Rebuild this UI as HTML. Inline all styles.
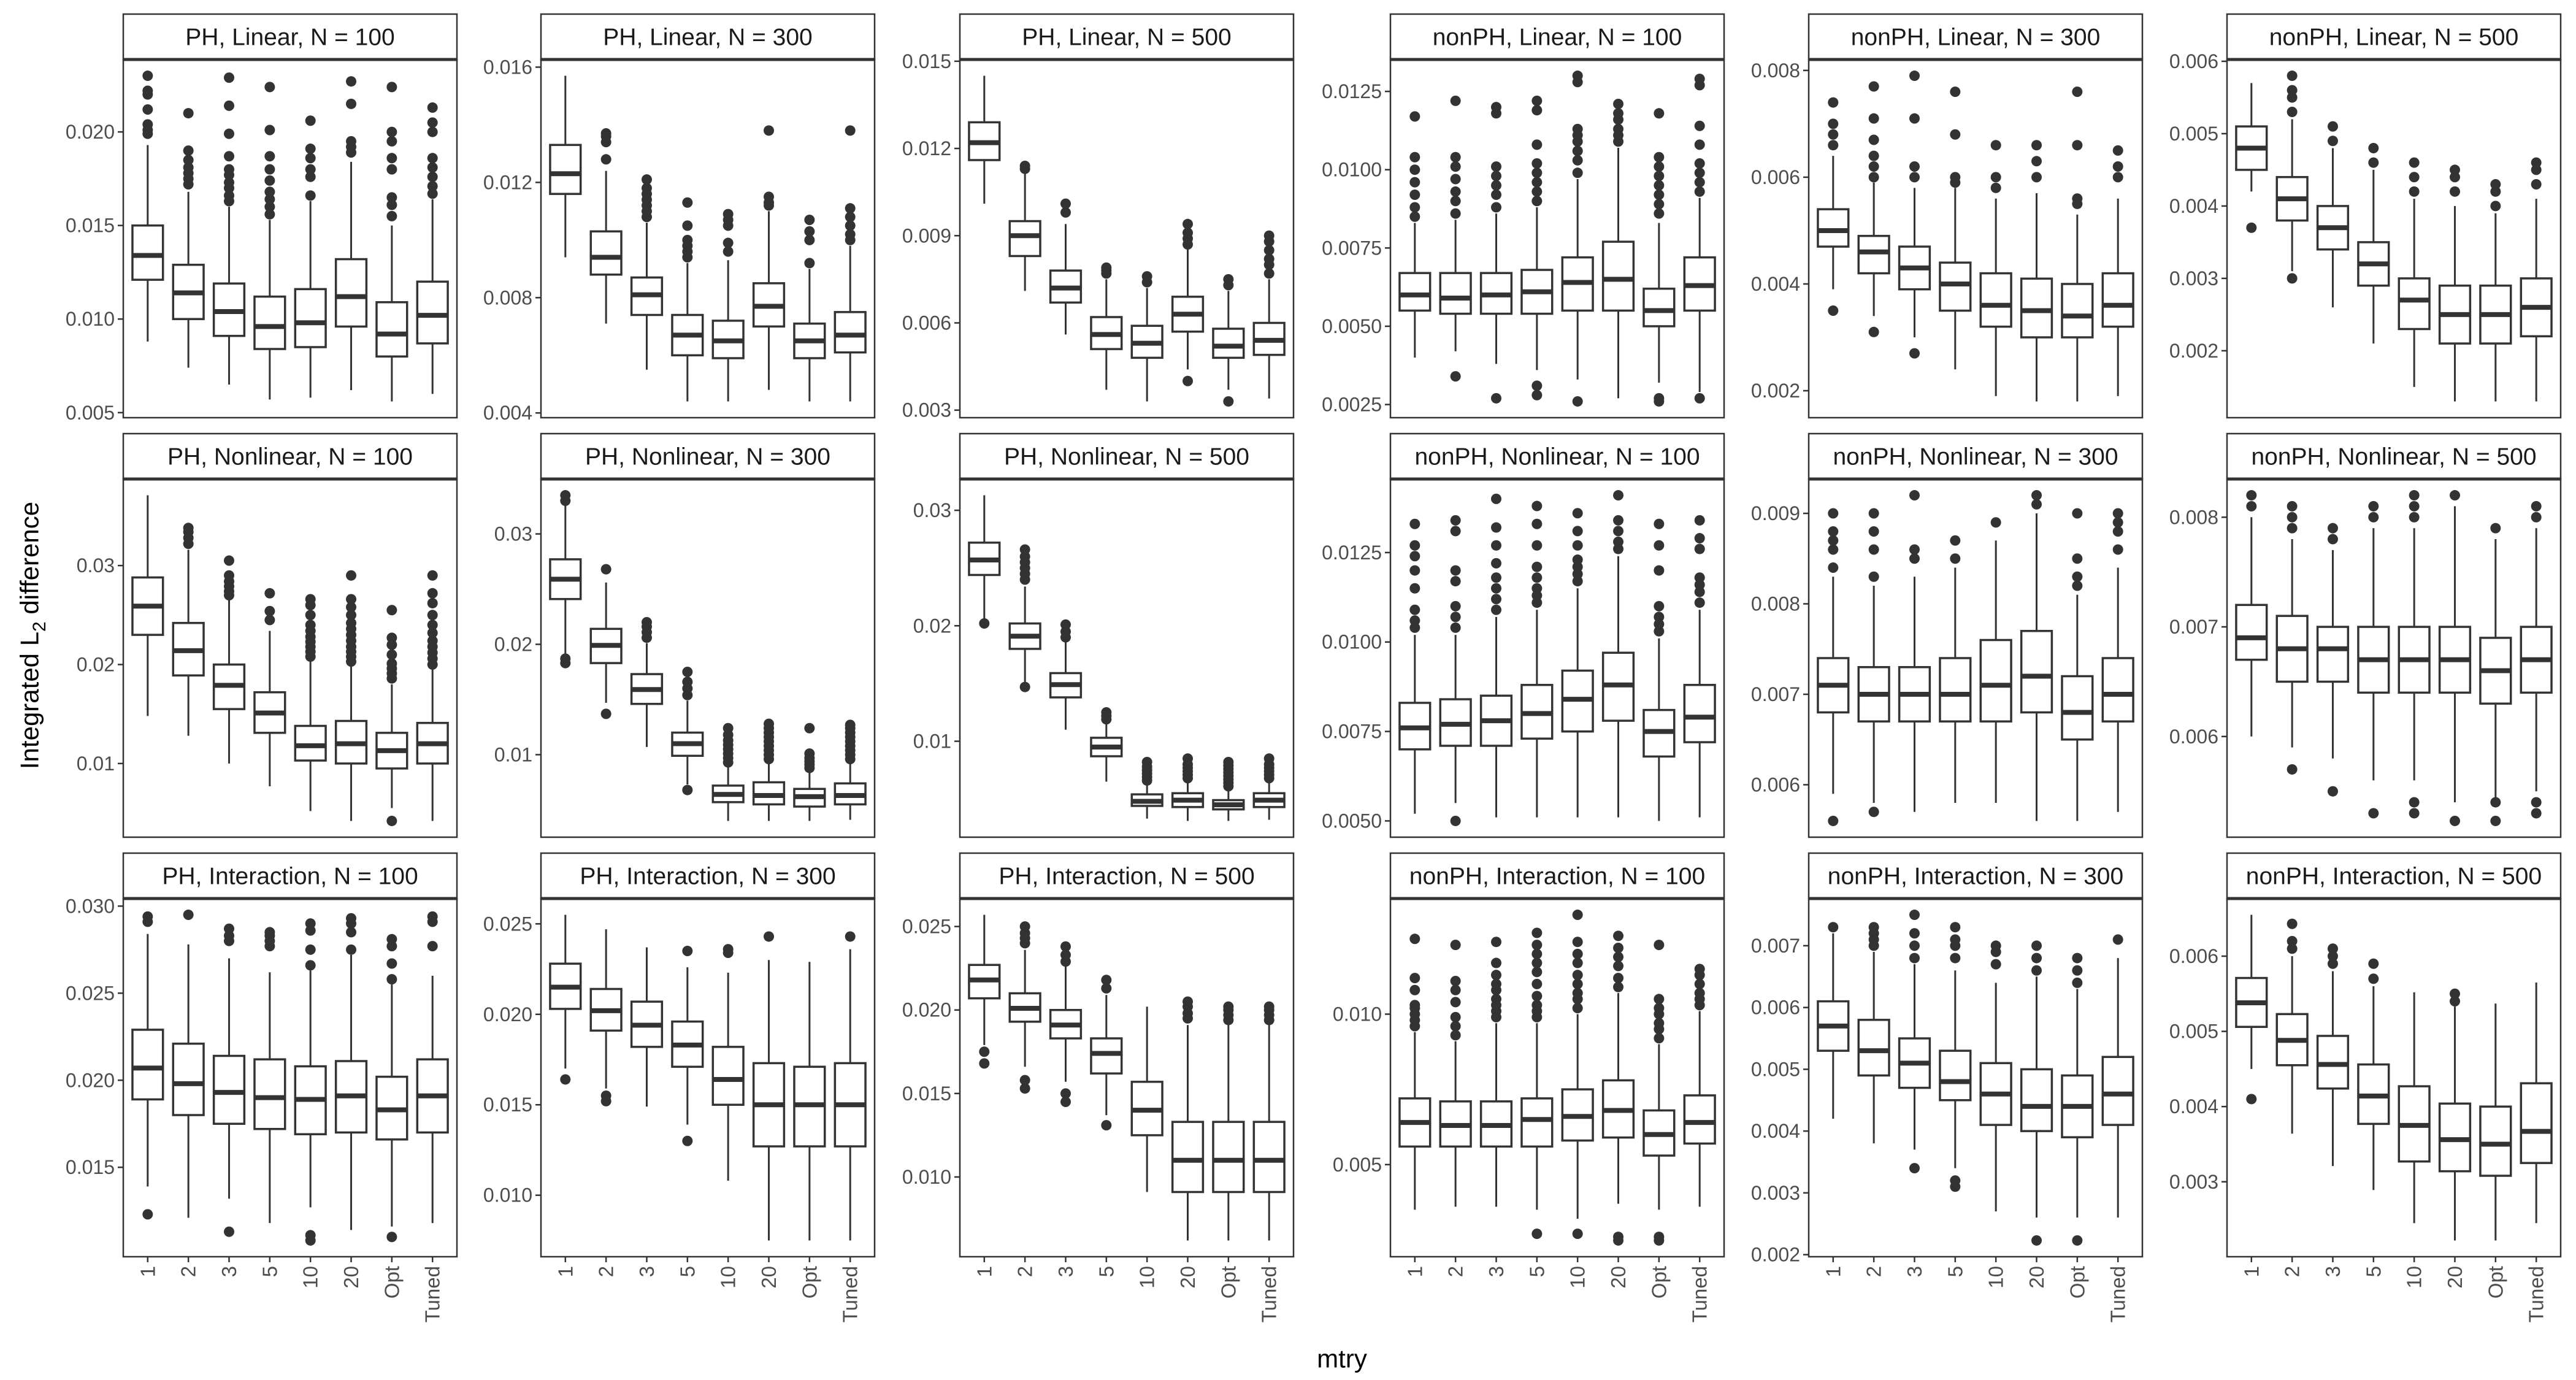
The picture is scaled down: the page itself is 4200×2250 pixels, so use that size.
<!DOCTYPE html>
<html>
<head>
<meta charset="utf-8">
<style>
  html, body { margin: 0; padding: 0; background: #ffffff; }
  svg { display: block; font-family: "Liberation Sans", Arial, sans-serif; }
</style>
</head>
<body>
<svg id="chart" xmlns="http://www.w3.org/2000/svg" width="4200" height="2250" viewBox="0 0 4200 2250">
  <rect x="0" y="0" width="4200" height="2250" fill="#ffffff"></rect>
  <text x="48" y="1036" transform="rotate(-90 48 1036)" text-anchor="middle" dominant-baseline="central" font-size="42" fill="#000">Integrated L<tspan font-size="30" baseline-shift="sub">2</tspan> difference</text>
  <text x="2188" y="2215" text-anchor="middle" dominant-baseline="central" font-size="42" fill="#000">mtry</text>
</svg>
<script>
const categories = ["1","2","3","5","10","20","Opt","Tuned"];

const panelTitles = [
  "PH, Linear, N = 100","PH, Linear, N = 300","PH, Linear, N = 500",
  "nonPH, Linear, N = 100","nonPH, Linear, N = 300","nonPH, Linear, N = 500",
  "PH, Nonlinear, N = 100","PH, Nonlinear, N = 300","PH, Nonlinear, N = 500",
  "nonPH, Nonlinear, N = 100","nonPH, Nonlinear, N = 300","nonPH, Nonlinear, N = 500",
  "PH, Interaction, N = 100","PH, Interaction, N = 300","PH, Interaction, N = 500",
  "nonPH, Interaction, N = 100","nonPH, Interaction, N = 300","nonPH, Interaction, N = 500"
];

const tickValues = [
  [0.005,0.010,0.015,0.020],[0.004,0.008,0.012,0.016],[0.003,0.006,0.009,0.012,0.015],
  [0.0025,0.005,0.0075,0.01,0.0125],[0.002,0.004,0.006,0.008],[0.002,0.003,0.004,0.005,0.006],
  [0.01,0.02,0.03],[0.01,0.02,0.03],[0.01,0.02,0.03],
  [0.005,0.0075,0.01,0.0125],[0.006,0.007,0.008,0.009],[0.006,0.007,0.008],
  [0.015,0.02,0.025,0.03],[0.01,0.015,0.02,0.025],[0.01,0.015,0.02,0.025],
  [0.005,0.01],[0.002,0.003,0.004,0.005,0.006,0.007],[0.003,0.004,0.005,0.006]
];

const tickLabels = [
  ["0.005","0.010","0.015","0.020"],["0.004","0.008","0.012","0.016"],["0.003","0.006","0.009","0.012","0.015"],
  ["0.0025","0.0050","0.0075","0.0100","0.0125"],["0.002","0.004","0.006","0.008"],["0.002","0.003","0.004","0.005","0.006"],
  ["0.01","0.02","0.03"],["0.01","0.02","0.03"],["0.01","0.02","0.03"],
  ["0.0050","0.0075","0.0100","0.0125"],["0.006","0.007","0.008","0.009"],["0.006","0.007","0.008"],
  ["0.015","0.020","0.025","0.030"],["0.010","0.015","0.020","0.025"],["0.010","0.015","0.020","0.025"],
  ["0.005","0.010"],["0.002","0.003","0.004","0.005","0.006","0.007"],["0.003","0.004","0.005","0.006"]
];

// [lower whisker, Q1, median, Q3, upper whisker] per category
const boxStats = [
  [[0.0088,0.0121,0.0134,0.0150,0.0193],[0.0074,0.0100,0.0114,0.0129,0.0168],[0.0065,0.0091,0.0104,0.0119,0.0160],[0.0057,0.0084,0.0096,0.0112,0.0153],[0.0058,0.0085,0.0098,0.0116,0.0163],[0.0062,0.0096,0.0112,0.0132,0.0184],[0.0056,0.0080,0.0092,0.0109,0.0150],[0.0060,0.0087,0.0102,0.0120,0.0164]],
  [[0.0094,0.0116,0.0123,0.0133,0.0157],[0.0071,0.0088,0.0094,0.0103,0.0124],[0.0055,0.0074,0.0081,0.0087,0.0106],[0.0044,0.0060,0.0067,0.0074,0.0092],[0.0044,0.0059,0.0065,0.0072,0.0093],[0.0048,0.0070,0.0077,0.0085,0.0110],[0.0044,0.0059,0.0065,0.0071,0.0090],[0.0044,0.0061,0.0067,0.0075,0.0098]],
  [[0.0101,0.0116,0.0122,0.0129,0.0145],[0.0071,0.0083,0.0090,0.0095,0.0112],[0.0056,0.0067,0.0072,0.0078,0.0094],[0.0037,0.0051,0.0056,0.0062,0.0075],[0.0033,0.0048,0.0053,0.0059,0.0072],[0.0044,0.0057,0.0063,0.0069,0.0086],[0.0037,0.0048,0.0052,0.0058,0.0071],[0.0034,0.0049,0.0054,0.0060,0.0075]],
  [[0.0040,0.0055,0.0060,0.0067,0.0083],[0.0042,0.0054,0.0059,0.0067,0.0084],[0.0038,0.0054,0.0060,0.0067,0.0086],[0.0036,0.0054,0.0061,0.0068,0.0088],[0.0033,0.0055,0.0064,0.0072,0.0097],[0.0027,0.0055,0.0065,0.0077,0.0107],[0.0032,0.0050,0.0055,0.0062,0.0083],[0.0029,0.0055,0.0063,0.0072,0.0091]],
  [[0.0039,0.0047,0.0050,0.0054,0.0064],[0.0034,0.0042,0.0046,0.0049,0.0059],[0.0030,0.0039,0.0043,0.0047,0.0058],[0.0024,0.0035,0.0040,0.0044,0.0058],[0.0019,0.0032,0.0036,0.0042,0.0056],[0.0018,0.0030,0.0035,0.0041,0.0057],[0.0018,0.0030,0.0034,0.0040,0.0053],[0.0019,0.0032,0.0036,0.0042,0.0056]],
  [[0.0042,0.0045,0.0048,0.0051,0.0057],[0.0031,0.0038,0.0041,0.0044,0.0052],[0.0026,0.0034,0.0037,0.0040,0.0048],[0.0021,0.0029,0.0032,0.0035,0.0045],[0.0015,0.0023,0.0027,0.0030,0.0041],[0.0013,0.0021,0.0025,0.0029,0.0040],[0.0013,0.0021,0.0025,0.0029,0.0039],[0.0013,0.0022,0.0026,0.0030,0.0041]],
  [[0.0148,0.0230,0.0259,0.0288,0.0371],[0.0128,0.0189,0.0214,0.0242,0.0316],[0.0100,0.0155,0.0179,0.0200,0.0265],[0.0077,0.0131,0.0151,0.0172,0.0234],[0.0052,0.0103,0.0118,0.0138,0.0204],[0.0042,0.0100,0.0120,0.0143,0.0198],[0.0055,0.0095,0.0113,0.0131,0.0180],[0.0042,0.0100,0.0120,0.0141,0.0195]],
  [[0.0190,0.0241,0.0259,0.0277,0.0326],[0.0147,0.0183,0.0199,0.0214,0.0256],[0.0107,0.0146,0.0159,0.0173,0.0201],[0.0073,0.0099,0.0110,0.0120,0.0149],[0.0040,0.0057,0.0064,0.0072,0.0089],[0.0040,0.0055,0.0063,0.0075,0.0093],[0.0040,0.0053,0.0062,0.0069,0.0086],[0.0041,0.0055,0.0063,0.0074,0.0093]],
  [[0.0205,0.0244,0.0257,0.0272,0.0313],[0.0150,0.0180,0.0191,0.0202,0.0234],[0.0110,0.0138,0.0149,0.0159,0.0186],[0.0065,0.0087,0.0095,0.0103,0.0116],[0.0033,0.0044,0.0048,0.0054,0.0063],[0.0031,0.0043,0.0049,0.0055,0.0065],[0.0031,0.0041,0.0045,0.0049,0.0059],[0.0032,0.0043,0.0049,0.0055,0.0065]],
  [[0.0052,0.0070,0.0076,0.0083,0.0102],[0.0055,0.0071,0.0077,0.0084,0.0102],[0.0051,0.0071,0.0078,0.0085,0.0107],[0.0051,0.0073,0.0080,0.0088,0.0109],[0.0051,0.0075,0.0084,0.0092,0.0115],[0.0051,0.0078,0.0088,0.0097,0.0124],[0.0050,0.0068,0.0075,0.0081,0.0101],[0.0051,0.0072,0.0079,0.0088,0.0109]],
  [[0.0059,0.0068,0.0071,0.0074,0.0083],[0.0058,0.0067,0.0070,0.0073,0.0082],[0.0057,0.0067,0.0070,0.0073,0.0083],[0.0058,0.0067,0.0070,0.0074,0.0084],[0.0058,0.0067,0.0071,0.0076,0.0087],[0.0056,0.0068,0.0072,0.0077,0.0090],[0.0056,0.0065,0.0068,0.0072,0.0081],[0.0057,0.0067,0.0070,0.0074,0.0084]],
  [[0.0060,0.0067,0.0069,0.0072,0.0080],[0.0059,0.0065,0.0068,0.0071,0.0078],[0.0058,0.0065,0.0068,0.0070,0.0077],[0.0056,0.0064,0.0067,0.0070,0.0079],[0.0056,0.0064,0.0067,0.0070,0.0079],[0.0054,0.0064,0.0067,0.0070,0.0081],[0.0054,0.0063,0.0066,0.0069,0.0078],[0.0055,0.0064,0.0067,0.0070,0.0079]],
  [[0.0139,0.0189,0.0207,0.0229,0.0284],[0.0121,0.0180,0.0198,0.0221,0.0278],[0.0132,0.0175,0.0193,0.0214,0.0270],[0.0118,0.0172,0.0190,0.0212,0.0262],[0.0127,0.0169,0.0189,0.0208,0.0263],[0.0114,0.0170,0.0191,0.0211,0.0272],[0.0116,0.0166,0.0183,0.0202,0.0255],[0.0118,0.0170,0.0191,0.0212,0.0260]],
  [[0.0170,0.0203,0.0215,0.0228,0.0255],[0.0159,0.0191,0.0202,0.0214,0.0247],[0.0149,0.0182,0.0194,0.0207,0.0237],[0.0139,0.0171,0.0183,0.0196,0.0226],[0.0108,0.0150,0.0164,0.0182,0.0223],[0.0075,0.0127,0.0150,0.0173,0.0230],[0.0075,0.0127,0.0150,0.0171,0.0229],[0.0075,0.0127,0.0150,0.0173,0.0236]],
  [[0.0179,0.0207,0.0218,0.0227,0.0257],[0.0166,0.0193,0.0201,0.0210,0.0236],[0.0157,0.0183,0.0191,0.0200,0.0226],[0.0137,0.0162,0.0174,0.0183,0.0209],[0.0091,0.0125,0.0140,0.0157,0.0202],[0.0062,0.0091,0.0110,0.0133,0.0191],[0.0062,0.0091,0.0110,0.0133,0.0191],[0.0062,0.0091,0.0110,0.0133,0.0191]],
  [[0.0035,0.0056,0.0064,0.0072,0.0094],[0.0036,0.0056,0.0063,0.0071,0.0091],[0.0036,0.0056,0.0063,0.0071,0.0097],[0.0035,0.0056,0.0065,0.0072,0.0097],[0.0032,0.0058,0.0066,0.0075,0.0100],[0.0037,0.0059,0.0068,0.0078,0.0107],[0.0035,0.0053,0.0060,0.0068,0.0090],[0.0036,0.0057,0.0064,0.0073,0.0101]],
  [[0.0042,0.0053,0.0057,0.0061,0.0072],[0.0038,0.0049,0.0053,0.0058,0.0069],[0.0037,0.0047,0.0051,0.0055,0.0067],[0.0034,0.0045,0.0048,0.0053,0.0066],[0.0027,0.0041,0.0046,0.0051,0.0064],[0.0026,0.0040,0.0044,0.0050,0.0065],[0.0026,0.0039,0.0044,0.0049,0.0063],[0.0026,0.0041,0.0046,0.0052,0.0068]],
  [[0.0045,0.00506,0.00538,0.00571,0.00655],[0.00364,0.00455,0.00488,0.00523,0.0060],[0.00321,0.00424,0.00456,0.00494,0.0058],[0.00289,0.00377,0.00414,0.00456,0.0056],[0.00245,0.00327,0.00375,0.00427,0.00552],[0.00222,0.00314,0.00356,0.00404,0.00533],[0.00222,0.00308,0.0035,0.0040,0.00537],[0.00245,0.00325,0.00367,0.00431,0.00565]]
];

const outlierValues = [
  [[0.0199,0.0201,0.0204,0.0212,0.0220,0.0222,0.0230],[0.0172,0.0175,0.0178,0.0181,0.0185,0.0190,0.0210],[0.0163,0.0166,0.0170,0.0173,0.0177,0.0180,0.0187,0.0199,0.0214,0.0229],[0.0156,0.0160,0.0164,0.0168,0.0174,0.0180,0.0187,0.0201,0.0224],[0.0166,0.0176,0.0180,0.0186,0.0191,0.0206],[0.0189,0.0192,0.0195,0.0215,0.0227],[0.0155,0.0161,0.0165,0.0180,0.0186,0.0195,0.0200,0.0224],[0.0167,0.0171,0.0176,0.0181,0.0186,0.0200,0.0205,0.0213]],
  [[],[0.0128,0.0134,0.0136,0.0137],[0.0108,0.0110,0.0112,0.0114,0.0116,0.0118,0.0121],[0.0094,0.0096,0.0098,0.0100,0.0105,0.0113],[0.0096,0.0099,0.0105,0.0107,0.0109],[0.0112,0.0113,0.0115,0.0138],[0.0092,0.0100,0.0103,0.0107],[0.0100,0.0102,0.0105,0.0108,0.0111,0.0138]],
  [[],[0.0113,0.0114],[0.0098,0.0101],[0.0077,0.0078,0.0079],[0.0074,0.0076],[0.0087,0.0089,0.0091,0.0094,0.0040],[0.0073,0.0075,0.0033],[0.0077,0.0080,0.0082,0.0085,0.0088,0.0090]],
  [[0.0085,0.0088,0.0092,0.0096,0.0100,0.0104,0.0117],[0.0086,0.0090,0.0093,0.0097,0.0101,0.0104,0.0122,0.0034],[0.0088,0.0092,0.0095,0.0098,0.0101,0.0118,0.0120,0.0027],[0.0090,0.0093,0.0096,0.0099,0.0102,0.0108,0.0119,0.0122,0.0031,0.0028],[0.0099,0.0103,0.0106,0.0109,0.0111,0.0113,0.0128,0.0130,0.0026],[0.0109,0.0111,0.0113,0.0116,0.0118,0.0121],[0.0086,0.0089,0.0092,0.0095,0.0098,0.0101,0.0104,0.0118,0.0026,0.0027],[0.0093,0.0096,0.0099,0.0102,0.0108,0.0114,0.0127,0.0129,0.0027]],
  [[0.0066,0.0068,0.0070,0.0074,0.0035],[0.0060,0.0062,0.0064,0.0067,0.0071,0.0077,0.0031],[0.0060,0.0062,0.0071,0.0079,0.0027],[0.0059,0.0060,0.0068,0.0076],[0.0058,0.0060,0.0066],[0.0060,0.0063,0.0066],[0.0055,0.0056,0.0066,0.0076],[0.0060,0.0062,0.0065]],
  [[0.0037],[0.0053,0.0055,0.0056,0.0058,0.0030],[0.0049,0.0051],[0.0046,0.0048],[0.0042,0.0044,0.0046],[0.0042,0.0044,0.0045],[0.0040,0.0042,0.0043],[0.0043,0.0045,0.0046]],
  [[],[0.0322,0.0328,0.0334,0.0338],[0.0270,0.0274,0.0279,0.0284,0.0290,0.0305],[0.0245,0.0254,0.0272],[0.0208,0.0213,0.0218,0.0223,0.0228,0.0234,0.0240,0.0250,0.0260,0.0266],[0.0203,0.0208,0.0213,0.0218,0.0224,0.0230,0.0236,0.0242,0.0250,0.0258,0.0266,0.0290],[0.0186,0.0191,0.0196,0.0201,0.0210,0.0220,0.0227,0.0255,0.0042],[0.0200,0.0206,0.0212,0.0218,0.0224,0.0232,0.0240,0.0250,0.0262,0.0272,0.0290]],
  [[0.0330,0.0335,0.0187,0.0183],[0.0268,0.0137],[0.0206,0.0211,0.0216,0.0220],[0.0154,0.0160,0.0166,0.0175,0.0068],[0.0093,0.0097,0.0101,0.0105,0.0109,0.0113,0.0118,0.0124],[0.0096,0.0100,0.0104,0.0108,0.0112,0.0116,0.0120,0.0124,0.0128],[0.0088,0.0091,0.0094,0.0097,0.0101,0.0124],[0.0096,0.0100,0.0104,0.0108,0.0112,0.0116,0.0120,0.0124,0.0127]],
  [[0.0202],[0.0240,0.0245,0.0250,0.0255,0.0260,0.0266,0.0147],[0.0190,0.0195,0.0201],[0.0119,0.0122,0.0125],[0.0066,0.0069,0.0072,0.0075,0.0078,0.0082],[0.0068,0.0071,0.0074,0.0077,0.0080,0.0085],[0.0061,0.0064,0.0067,0.0070,0.0073,0.0076,0.0079,0.0082],[0.0068,0.0071,0.0074,0.0077,0.0080,0.0085]],
  [[0.0104,0.0106,0.0109,0.0115,0.0120,0.0124,0.0127,0.0133],[0.0104,0.0107,0.0110,0.0117,0.0120,0.0131,0.0134,0.0050],[0.0109,0.0112,0.0115,0.0118,0.0122,0.0127,0.0132,0.0140],[0.0111,0.0113,0.0115,0.0118,0.0121,0.0127,0.0133,0.0138],[0.0117,0.0119,0.0121,0.0123,0.0127,0.0131,0.0136],[0.0126,0.0128,0.0131,0.0134,0.0141],[0.0103,0.0105,0.0107,0.0110,0.0120,0.0127,0.0133],[0.0111,0.0114,0.0116,0.0118,0.0126,0.0129,0.0134]],
  [[0.0084,0.0086,0.0087,0.0088,0.0090,0.0056],[0.0083,0.0086,0.0088,0.0090,0.0057],[0.0085,0.0086,0.0092],[0.0085,0.0087],[0.0089],[0.0091,0.0092],[0.0082,0.0083,0.0085,0.0090],[0.0086,0.0088,0.0089,0.0090]],
  [[0.0081,0.0082],[0.0079,0.0080,0.0081,0.0057],[0.0078,0.0079,0.0055],[0.0080,0.0081,0.0053],[0.0080,0.0081,0.0082,0.0054,0.0053],[0.0082,0.00523],[0.0079,0.0054,0.00523],[0.0080,0.0081,0.0054,0.0053]],
  [[0.0291,0.0294,0.0123],[0.0295],[0.0280,0.0283,0.0287,0.0113],[0.0277,0.0280,0.0283,0.0285],[0.0266,0.0275,0.0286,0.0290,0.0111,0.0108],[0.0275,0.0285,0.0290,0.0293],[0.0258,0.0267,0.0277,0.0281,0.0110],[0.0277,0.0291,0.0294]],
  [[0.0164],[0.0155,0.0152],[],[0.0235,0.0130],[0.0234,0.0236],[0.0243],[],[0.0243]],
  [[0.0175,0.0168],[0.0240,0.0243,0.0246,0.0250,0.0158,0.0153],[0.0229,0.0233,0.0238,0.0150,0.0145],[0.0213,0.0218,0.0131],[],[0.0195,0.0198,0.0202,0.0205],[0.0194,0.0197,0.0200,0.0202],[0.0194,0.0197,0.0200,0.0202]],
  [[0.0096,0.0098,0.0100,0.0102,0.0103,0.0108,0.0112,0.0125],[0.0093,0.0096,0.0099,0.0104,0.0108,0.0111,0.0123],[0.0099,0.0101,0.0103,0.0105,0.0108,0.0110,0.0113,0.0117,0.0124],[0.0099,0.0101,0.0103,0.0106,0.0110,0.0114,0.0117,0.0120,0.0123,0.0127,0.0027],[0.0102,0.0105,0.0107,0.0110,0.0113,0.0117,0.0120,0.0124,0.0133,0.0027],[0.0109,0.0112,0.0116,0.0119,0.0122,0.0126,0.0026,0.00248],[0.0092,0.0095,0.0097,0.0100,0.0102,0.0105,0.0123,0.0026,0.00248],[0.0103,0.0105,0.0107,0.0110,0.0113,0.0115]],
  [[0.0073],[0.0070,0.0071,0.0072,0.0073],[0.0068,0.0070,0.0072,0.0075,0.0034],[0.0068,0.0070,0.0071,0.0073,0.0032,0.0031],[0.0067,0.0069,0.0070],[0.0066,0.0068,0.0070,0.00223],[0.0064,0.0066,0.0068,0.00223],[0.0071]],
  [[0.0041],[0.0061,0.0062,0.00643],[0.0059,0.0060,0.0061],[0.0057,0.0059],[],[0.0054,0.0055],[],[]]
];

// ---- layout ----
const NS = "http://www.w3.org/2000/svg";
const svg = document.getElementById("chart");
const colX = [201, 882, 1565, 2267, 2949, 3631];
const rowTop = [23, 707, 1391];
const panelW = 544, stripH = 74, plotH = 584;
const INK = "#333333";

function mk(tag, attrs, parent) {
  const e = document.createElementNS(NS, tag);
  for (const k in attrs) e.setAttribute(k, attrs[k]);
  (parent || svg).appendChild(e);
  return e;
}

for (let p = 0; p < 18; p++) {
  const r = Math.floor(p / 6), c = p % 6;
  const x0 = colX[c], sTop = rowTop[r], pTop = sTop + stripH, pBot = pTop + plotH;
  const g = mk("g", {});
  
  

  // y domain from data with 5% expansion
  let lo = Infinity, hi = -Infinity;
  boxStats[p].forEach((s, i) => {
    lo = Math.min(lo, s[0]); hi = Math.max(hi, s[4]);
    outlierValues[p][i].forEach(v => { lo = Math.min(lo, v); hi = Math.max(hi, v); });
  });
  const R = hi - lo; const dLo = lo - 0.05 * R, dHi = hi + 0.05 * R;
  const yScale = v => pBot - (v - dLo) / (dHi - dLo) * plotH;
  const unit = panelW / 8.2;
  const xScale = i => x0 + (i + 0.6) * unit;
  const bw = 0.75 * unit;

  const bg = mk("rect", {x: x0, y: pTop, width: panelW, height: plotH, fill: "#fff"}, g);
  
  

  const strip = mk("rect", {x: x0, y: sTop, width: panelW, height: stripH, fill: "#fff", stroke: INK, "stroke-width": 2.5}, g);
  
  
  const st = mk("text", {x: x0 + panelW / 2, y: sTop + stripH / 2 + 1, "text-anchor": "middle", "dominant-baseline": "central", "font-size": 39, fill: "#1a1a1a"}, g);
  st.textContent = panelTitles[p];
  
  

  tickValues[p].forEach((v, k) => {
    const y = yScale(v);
    const tl = mk("line", {x1: x0 - 9, x2: x0, y1: y, y2: y, stroke: INK, "stroke-width": 2.5}, g);
    
    
    const tx = mk("text", {x: x0 - 14, y: y, "text-anchor": "end", "dominant-baseline": "central", "font-size": 32, fill: "#4d4d4d"}, g);
    tx.textContent = tickLabels[p][k];
    
    
  });

  boxStats[p].forEach((s, i) => {
    const cx = xScale(i);
    const bg2 = mk("g", {}, g);
    
    
    mk("line", {x1: cx, x2: cx, y1: yScale(s[3]), y2: yScale(s[4]), stroke: INK, "stroke-width": 3}, bg2);
    mk("line", {x1: cx, x2: cx, y1: yScale(s[1]), y2: yScale(s[0]), stroke: INK, "stroke-width": 3}, bg2);
    mk("rect", {x: cx - bw / 2, y: yScale(s[3]), width: bw, height: yScale(s[1]) - yScale(s[3]), fill: "#fff", stroke: INK, "stroke-width": 3.5}, bg2);
    mk("line", {x1: cx - bw / 2, x2: cx + bw / 2, y1: yScale(s[2]), y2: yScale(s[2]), stroke: INK, "stroke-width": 8}, bg2);
    outlierValues[p][i].forEach(v => {
      const pt = mk("circle", {cx: cx, cy: yScale(v), r: 8.5, fill: INK}, bg2);
      
      
    });
  });

  const border = mk("rect", {x: x0, y: pTop, width: panelW, height: plotH, fill: "none", stroke: INK, "stroke-width": 2.5}, g);
  
  
  mk("line", {x1: x0, x2: x0 + panelW, y1: pTop, y2: pTop, stroke: INK, "stroke-width": 5}, g);

  if (r === 2) {
    categories.forEach((cat, i) => {
      const cx = xScale(i);
      const xt = mk("line", {x1: cx, x2: cx, y1: pBot, y2: pBot + 9, stroke: INK, "stroke-width": 2.5}, g);
      
      
      const lx = mk("text", {x: cx, y: pBot + 15, transform: "rotate(-90 " + cx + " " + (pBot + 15) + ")", "text-anchor": "end", "dominant-baseline": "central", "font-size": 33, fill: "#4d4d4d"}, g);
      lx.textContent = cat;
      
      
    });
  }
}
</script>
</body>
</html>
